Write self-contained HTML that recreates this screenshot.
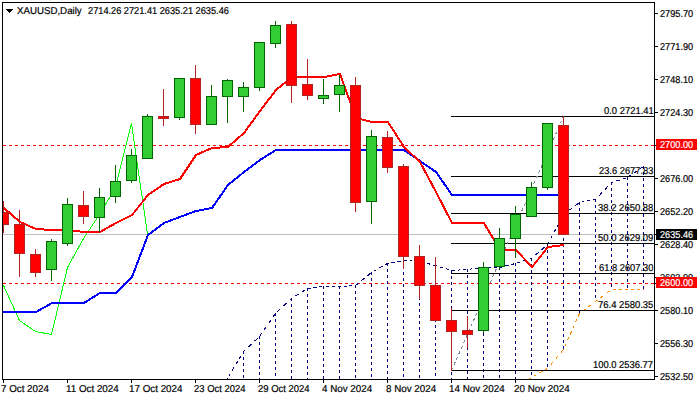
<!DOCTYPE html>
<html><head><meta charset="utf-8"><style>
html,body{margin:0;padding:0;background:#fff;width:700px;height:400px;overflow:hidden}
svg{display:block}
.t{font-family:"Liberation Sans",sans-serif;font-size:10px;fill:#000;white-space:pre;text-rendering:geometricPrecision;stroke:#000;stroke-width:0.2px}
.w{fill:#fff;stroke:#fff}
</style></head><body>
<svg width="700" height="400" viewBox="0 0 700 400" shape-rendering="crispEdges">
<defs><clipPath id="cp"><rect x="3" y="3" width="651" height="376"/></clipPath></defs>
<g clip-path="url(#cp)">
<line x1="3" y1="145.5" x2="654" y2="145.5" stroke="#ff0000" stroke-width="1" stroke-dasharray="3 3"/>
<line x1="3" y1="283.5" x2="654" y2="283.5" stroke="#ff0000" stroke-width="1" stroke-dasharray="3 3"/>
<line x1="3" y1="234.5" x2="654" y2="234.5" stroke="#c0c0c0" stroke-width="1"/>
<path d="M227.5 378V380M243.5 351V380M259.5 336V380M275.5 313V380M291.5 298V380M307.5 288V380M323.5 286V380M339.5 286V380M355.5 285V380M371.5 272V380M387.5 263V380M403.5 260V380M419.5 261V380M435.5 265V380M451.5 270V380M467.5 269V380M483.5 267V380M499.5 267V380M515.5 263V380M531.5 258V378M547.5 244V369M563.5 214V350M579.5 202V314M595.5 199V302M611.5 182V290M627.5 177V290M643.5 166V290" stroke="#000080" stroke-width="1" stroke-dasharray="3 3" fill="none"/>
<line x1="211.5" y1="400.5" x2="227.5" y2="378.5" stroke="#000080" stroke-width="1" stroke-dasharray="3.709 3.709" stroke-dashoffset="0.000"/>
<line x1="227.5" y1="378.5" x2="243.5" y2="351.5" stroke="#000080" stroke-width="1" stroke-dasharray="3.487 3.487" stroke-dashoffset="4.650"/>
<line x1="243.5" y1="351.5" x2="259.5" y2="336.5" stroke="#000080" stroke-width="1" stroke-dasharray="4.112 4.112" stroke-dashoffset="1.371"/>
<line x1="259.5" y1="336.5" x2="275.5" y2="313.5" stroke="#000080" stroke-width="1" stroke-dasharray="3.655 3.655" stroke-dashoffset="6.091"/>
<line x1="275.5" y1="313.5" x2="291.5" y2="298.5" stroke="#000080" stroke-width="1" stroke-dasharray="4.112 4.112" stroke-dashoffset="5.483"/>
<line x1="291.5" y1="298.5" x2="307.5" y2="288.5" stroke="#000080" stroke-width="1" stroke-dasharray="3.538 3.538" stroke-dashoffset="2.358"/>
<line x1="307.5" y1="288.5" x2="323.5" y2="286.5" stroke="#000080" stroke-width="1" stroke-dasharray="3.023 3.023" stroke-dashoffset="0.000"/>
<line x1="323.5" y1="286.5" x2="339.5" y2="286.5" stroke="#000080" stroke-width="1" stroke-dasharray="3.000 3.000" stroke-dashoffset="4.000"/>
<line x1="339.5" y1="286.5" x2="355.5" y2="285.5" stroke="#000080" stroke-width="1" stroke-dasharray="3.006 3.006" stroke-dashoffset="2.004"/>
<line x1="355.5" y1="285.5" x2="371.5" y2="272.5" stroke="#000080" stroke-width="1" stroke-dasharray="3.865 3.865" stroke-dashoffset="0.000"/>
<line x1="371.5" y1="272.5" x2="387.5" y2="263.5" stroke="#000080" stroke-width="1" stroke-dasharray="3.442 3.442" stroke-dashoffset="4.589"/>
<line x1="387.5" y1="263.5" x2="403.5" y2="260.5" stroke="#000080" stroke-width="1" stroke-dasharray="3.052 3.052" stroke-dashoffset="2.035"/>
<line x1="403.5" y1="260.5" x2="419.5" y2="261.5" stroke="#000080" stroke-width="1" stroke-dasharray="3.006 3.006" stroke-dashoffset="0.000"/>
<line x1="419.5" y1="261.5" x2="435.5" y2="265.5" stroke="#000080" stroke-width="1" stroke-dasharray="3.092 3.092" stroke-dashoffset="4.123"/>
<line x1="435.5" y1="265.5" x2="451.5" y2="270.5" stroke="#000080" stroke-width="1" stroke-dasharray="3.143 3.143" stroke-dashoffset="2.095"/>
<line x1="451.5" y1="270.5" x2="467.5" y2="269.5" stroke="#000080" stroke-width="1" stroke-dasharray="3.006 3.006" stroke-dashoffset="0.000"/>
<line x1="467.5" y1="269.5" x2="483.5" y2="267.5" stroke="#000080" stroke-width="1" stroke-dasharray="3.023 3.023" stroke-dashoffset="4.031"/>
<line x1="483.5" y1="267.5" x2="499.5" y2="267.5" stroke="#000080" stroke-width="1" stroke-dasharray="3.000 3.000" stroke-dashoffset="2.000"/>
<line x1="499.5" y1="267.5" x2="515.5" y2="263.5" stroke="#000080" stroke-width="1" stroke-dasharray="3.092 3.092" stroke-dashoffset="0.000"/>
<line x1="515.5" y1="263.5" x2="531.5" y2="258.5" stroke="#000080" stroke-width="1" stroke-dasharray="3.143 3.143" stroke-dashoffset="4.191"/>
<line x1="531.5" y1="258.5" x2="547.5" y2="244.5" stroke="#000080" stroke-width="1" stroke-dasharray="3.986 3.986" stroke-dashoffset="2.658"/>
<line x1="547.5" y1="244.5" x2="563.5" y2="214.5" stroke="#000080" stroke-width="1" stroke-dasharray="3.400 3.400" stroke-dashoffset="0.000"/>
<line x1="563.5" y1="214.5" x2="579.5" y2="202.5" stroke="#000080" stroke-width="1" stroke-dasharray="3.750 3.750" stroke-dashoffset="0.000"/>
<line x1="579.5" y1="202.5" x2="595.5" y2="199.5" stroke="#000080" stroke-width="1" stroke-dasharray="3.052 3.052" stroke-dashoffset="4.070"/>
<line x1="595.5" y1="199.5" x2="611.5" y2="182.5" stroke="#000080" stroke-width="1" stroke-dasharray="4.120 4.120" stroke-dashoffset="2.746"/>
<line x1="611.5" y1="182.5" x2="627.5" y2="177.5" stroke="#000080" stroke-width="1" stroke-dasharray="3.143 3.143" stroke-dashoffset="1.048"/>
<line x1="627.5" y1="177.5" x2="643.5" y2="166.5" stroke="#000080" stroke-width="1" stroke-dasharray="3.641 3.641" stroke-dashoffset="6.068"/>
<line x1="515.5" y1="390.5" x2="531.5" y2="377.5" stroke="#ff8c00" stroke-width="1" stroke-dasharray="3.865 3.865" stroke-dashoffset="0.000"/>
<line x1="531.5" y1="377.5" x2="547.5" y2="368.5" stroke="#ff8c00" stroke-width="1" stroke-dasharray="3.442 3.442" stroke-dashoffset="4.589"/>
<line x1="547.5" y1="368.5" x2="563.5" y2="349.5" stroke="#ff8c00" stroke-width="1" stroke-dasharray="3.922 3.922" stroke-dashoffset="2.615"/>
<line x1="563.5" y1="349.5" x2="579.5" y2="313.5" stroke="#ff8c00" stroke-width="1" stroke-dasharray="3.283 3.283" stroke-dashoffset="3.283"/>
<line x1="579.5" y1="313.5" x2="595.5" y2="301.5" stroke="#ff8c00" stroke-width="1" stroke-dasharray="3.750 3.750" stroke-dashoffset="3.750"/>
<line x1="595.5" y1="301.5" x2="611.5" y2="289.5" stroke="#ff8c00" stroke-width="1" stroke-dasharray="3.750 3.750" stroke-dashoffset="1.250"/>
<line x1="611.5" y1="289.5" x2="627.5" y2="289.5" stroke="#ff8c00" stroke-width="1" stroke-dasharray="3.000 3.000" stroke-dashoffset="5.000"/>
<line x1="627.5" y1="289.5" x2="643.5" y2="289.5" stroke="#ff8c00" stroke-width="1" stroke-dasharray="3.000 3.000" stroke-dashoffset="3.000"/>
<line x1="451" y1="116.5" x2="654" y2="116.5" stroke="#000" stroke-width="1"/>
<line x1="451" y1="176.5" x2="654" y2="176.5" stroke="#000" stroke-width="1"/>
<line x1="451" y1="213.5" x2="654" y2="213.5" stroke="#000" stroke-width="1"/>
<line x1="451" y1="243.5" x2="654" y2="243.5" stroke="#000" stroke-width="1"/>
<line x1="451" y1="273.5" x2="654" y2="273.5" stroke="#000" stroke-width="1"/>
<line x1="451" y1="310.5" x2="654" y2="310.5" stroke="#000" stroke-width="1"/>
<line x1="451" y1="370.5" x2="654" y2="370.5" stroke="#000" stroke-width="1"/>
<line x1="451.5" y1="370.5" x2="563.5" y2="116.5" stroke="#778899" stroke-width="1" stroke-dasharray="3 3"/>
<polyline points="3.5,285.5 19.5,320.5 35.5,331.5 51.5,334.5 67.5,267.5 83.5,238.5 99.5,214.5 115.5,187.5 131.5,123.5 147.5,234.5" stroke="#00ff00" stroke-width="1" fill="none" />
<polyline points="-12.0,312.0 4.0,312.0 20.0,312.0 36.0,312.0 52.0,303.0 68.0,303.0 84.0,303.0 100.0,293.0 116.0,293.0 132.0,277.0 148.0,235.0 164.0,223.0 180.0,217.0 196.0,211.0 212.0,208.0 228.0,185.0 244.0,172.0 260.0,160.0 276.0,150.0 292.0,150.0 308.0,150.0 324.0,150.0 340.0,150.0 356.0,150.0 372.0,150.0 388.0,150.0 404.0,150.0 420.0,161.0 436.0,172.0 452.0,195.0 468.0,195.0 484.0,195.0 500.0,195.0 516.0,195.0 532.0,195.0 548.0,195.0 564.0,195.0" stroke="#0000ff" stroke-width="2" fill="none" />
<polyline points="-12.0,194.0 4.0,208.0 20.0,222.0 36.0,229.0 52.0,230.0 68.0,230.0 84.0,232.0 100.0,232.0 116.0,223.0 132.0,215.0 148.0,195.0 164.0,184.0 180.0,179.0 196.0,155.0 212.0,148.0 228.0,147.0 244.0,133.0 260.0,111.0 276.0,90.0 292.0,77.0 308.0,77.0 324.0,77.0 340.0,74.0 356.0,118.0 372.0,122.0 388.0,122.0 404.0,147.0 420.0,162.0 436.0,192.0 452.0,223.0 468.0,223.0 484.0,223.0 500.0,250.0 516.0,250.0 532.0,267.0 548.0,247.0 564.0,245.0" stroke="#ff0000" stroke-width="2" fill="none" />
<rect x="3" y="201" width="1" height="32" fill="#b22222"/>
<rect x="-2" y="212" width="11" height="13" fill="#b22222"/>
<rect x="-1" y="213" width="9" height="11" fill="#ff0000"/>
<rect x="19" y="210" width="1" height="67" fill="#b22222"/>
<rect x="14" y="224" width="11" height="30" fill="#b22222"/>
<rect x="15" y="225" width="9" height="28" fill="#ff0000"/>
<rect x="35" y="249" width="1" height="28" fill="#b22222"/>
<rect x="30" y="254" width="11" height="19" fill="#b22222"/>
<rect x="31" y="255" width="9" height="17" fill="#ff0000"/>
<rect x="51" y="239" width="1" height="42" fill="#006400"/>
<rect x="46" y="241" width="11" height="29" fill="#006400"/>
<rect x="47" y="242" width="9" height="27" fill="#32cd32"/>
<rect x="67" y="198" width="1" height="48" fill="#006400"/>
<rect x="62" y="204" width="11" height="40" fill="#006400"/>
<rect x="63" y="205" width="9" height="38" fill="#32cd32"/>
<rect x="83" y="191" width="1" height="33" fill="#b22222"/>
<rect x="78" y="205" width="11" height="12" fill="#b22222"/>
<rect x="79" y="206" width="9" height="10" fill="#ff0000"/>
<rect x="99" y="188" width="1" height="44" fill="#006400"/>
<rect x="94" y="197" width="11" height="21" fill="#006400"/>
<rect x="95" y="198" width="9" height="19" fill="#32cd32"/>
<rect x="115" y="165" width="1" height="38" fill="#006400"/>
<rect x="110" y="181" width="11" height="16" fill="#006400"/>
<rect x="111" y="182" width="9" height="14" fill="#32cd32"/>
<rect x="131" y="149" width="1" height="34" fill="#006400"/>
<rect x="126" y="155" width="11" height="26" fill="#006400"/>
<rect x="127" y="156" width="9" height="24" fill="#32cd32"/>
<rect x="147" y="114" width="1" height="45" fill="#006400"/>
<rect x="142" y="116" width="11" height="43" fill="#006400"/>
<rect x="143" y="117" width="9" height="41" fill="#32cd32"/>
<rect x="163" y="89" width="1" height="37" fill="#b22222"/>
<rect x="158" y="116" width="11" height="3" fill="#b22222"/>
<rect x="159" y="117" width="9" height="1" fill="#ff0000"/>
<rect x="179" y="78" width="1" height="42" fill="#006400"/>
<rect x="174" y="78" width="11" height="40" fill="#006400"/>
<rect x="175" y="79" width="9" height="38" fill="#32cd32"/>
<rect x="195" y="65" width="1" height="69" fill="#b22222"/>
<rect x="190" y="78" width="11" height="47" fill="#b22222"/>
<rect x="191" y="79" width="9" height="45" fill="#ff0000"/>
<rect x="211" y="85" width="1" height="40" fill="#006400"/>
<rect x="206" y="96" width="11" height="29" fill="#006400"/>
<rect x="207" y="97" width="9" height="27" fill="#32cd32"/>
<rect x="227" y="79" width="1" height="44" fill="#006400"/>
<rect x="222" y="80" width="11" height="17" fill="#006400"/>
<rect x="223" y="81" width="9" height="15" fill="#32cd32"/>
<rect x="243" y="82" width="1" height="30" fill="#006400"/>
<rect x="238" y="87" width="11" height="10" fill="#006400"/>
<rect x="239" y="88" width="9" height="8" fill="#32cd32"/>
<rect x="259" y="42" width="1" height="49" fill="#006400"/>
<rect x="254" y="42" width="11" height="46" fill="#006400"/>
<rect x="255" y="43" width="9" height="44" fill="#32cd32"/>
<rect x="275" y="21" width="1" height="27" fill="#006400"/>
<rect x="270" y="25" width="11" height="19" fill="#006400"/>
<rect x="271" y="26" width="9" height="17" fill="#32cd32"/>
<rect x="291" y="21" width="1" height="82" fill="#b22222"/>
<rect x="286" y="24" width="11" height="62" fill="#b22222"/>
<rect x="287" y="25" width="9" height="60" fill="#ff0000"/>
<rect x="307" y="59" width="1" height="41" fill="#b22222"/>
<rect x="302" y="84" width="11" height="12" fill="#b22222"/>
<rect x="303" y="85" width="9" height="10" fill="#ff0000"/>
<rect x="323" y="79" width="1" height="25" fill="#006400"/>
<rect x="318" y="95" width="11" height="4" fill="#006400"/>
<rect x="319" y="96" width="9" height="2" fill="#32cd32"/>
<rect x="339" y="75" width="1" height="37" fill="#006400"/>
<rect x="334" y="85" width="11" height="10" fill="#006400"/>
<rect x="335" y="86" width="9" height="8" fill="#32cd32"/>
<rect x="355" y="77" width="1" height="135" fill="#b22222"/>
<rect x="350" y="85" width="11" height="118" fill="#b22222"/>
<rect x="351" y="86" width="9" height="116" fill="#ff0000"/>
<rect x="371" y="130" width="1" height="94" fill="#006400"/>
<rect x="366" y="136" width="11" height="66" fill="#006400"/>
<rect x="367" y="137" width="9" height="64" fill="#32cd32"/>
<rect x="387" y="131" width="1" height="42" fill="#b22222"/>
<rect x="382" y="137" width="11" height="31" fill="#b22222"/>
<rect x="383" y="138" width="9" height="29" fill="#ff0000"/>
<rect x="403" y="164" width="1" height="105" fill="#b22222"/>
<rect x="398" y="166" width="11" height="91" fill="#b22222"/>
<rect x="399" y="167" width="9" height="89" fill="#ff0000"/>
<rect x="419" y="245" width="1" height="54" fill="#b22222"/>
<rect x="414" y="256" width="11" height="30" fill="#b22222"/>
<rect x="415" y="257" width="9" height="28" fill="#ff0000"/>
<rect x="435" y="257" width="1" height="64" fill="#b22222"/>
<rect x="430" y="285" width="11" height="36" fill="#b22222"/>
<rect x="431" y="286" width="9" height="34" fill="#ff0000"/>
<rect x="451" y="308" width="1" height="63" fill="#b22222"/>
<rect x="446" y="320" width="11" height="12" fill="#b22222"/>
<rect x="447" y="321" width="9" height="10" fill="#ff0000"/>
<rect x="467" y="316" width="1" height="32" fill="#b22222"/>
<rect x="462" y="330" width="11" height="5" fill="#b22222"/>
<rect x="463" y="331" width="9" height="3" fill="#ff0000"/>
<rect x="483" y="262" width="1" height="71" fill="#006400"/>
<rect x="478" y="267" width="11" height="64" fill="#006400"/>
<rect x="479" y="268" width="9" height="62" fill="#32cd32"/>
<rect x="499" y="228" width="1" height="41" fill="#006400"/>
<rect x="494" y="238" width="11" height="29" fill="#006400"/>
<rect x="495" y="239" width="9" height="27" fill="#32cd32"/>
<rect x="515" y="206" width="1" height="52" fill="#006400"/>
<rect x="510" y="214" width="11" height="25" fill="#006400"/>
<rect x="511" y="215" width="9" height="23" fill="#32cd32"/>
<rect x="531" y="182" width="1" height="35" fill="#006400"/>
<rect x="526" y="187" width="11" height="30" fill="#006400"/>
<rect x="527" y="188" width="9" height="28" fill="#32cd32"/>
<rect x="547" y="123" width="1" height="67" fill="#006400"/>
<rect x="542" y="123" width="11" height="65" fill="#006400"/>
<rect x="543" y="124" width="9" height="63" fill="#32cd32"/>
<rect x="563" y="116" width="1" height="119" fill="#b22222"/>
<rect x="558" y="125" width="11" height="110" fill="#b22222"/>
<rect x="559" y="126" width="9" height="108" fill="#ff0000"/>
<text x="604.00" y="114" textLength="49.78" lengthAdjust="spacingAndGlyphs" class="t">0.0 2721.41</text>
<text x="599.00" y="174" textLength="54.36" lengthAdjust="spacingAndGlyphs" class="t">23.6 2677.83</text>
<text x="598.05" y="211" textLength="55.32" lengthAdjust="spacingAndGlyphs" class="t">38.2 2650.88</text>
<text x="598.05" y="241" textLength="55.32" lengthAdjust="spacingAndGlyphs" class="t">50.0 2629.09</text>
<text x="599.00" y="271" textLength="54.36" lengthAdjust="spacingAndGlyphs" class="t">61.8 2607.30</text>
<text x="598.05" y="308" textLength="55.32" lengthAdjust="spacingAndGlyphs" class="t">76.4 2580.35</text>
<text x="593.06" y="368" textLength="59.89" lengthAdjust="spacingAndGlyphs" class="t">100.0 2536.77</text>
</g>
<rect x="2.5" y="2.5" width="652" height="377" fill="none" stroke="#000" stroke-width="1"/>
<rect x="655" y="13" width="3" height="1" fill="#000"/>
<text x="660.00" y="17" textLength="33.14" lengthAdjust="spacingAndGlyphs" class="t">2795.70</text>
<rect x="655" y="46" width="3" height="1" fill="#000"/>
<text x="660.00" y="50" textLength="33.14" lengthAdjust="spacingAndGlyphs" class="t">2771.90</text>
<rect x="655" y="79" width="3" height="1" fill="#000"/>
<text x="660.00" y="83" textLength="33.14" lengthAdjust="spacingAndGlyphs" class="t">2748.10</text>
<rect x="655" y="112" width="3" height="1" fill="#000"/>
<text x="660.00" y="116" textLength="33.14" lengthAdjust="spacingAndGlyphs" class="t">2724.30</text>
<rect x="655" y="178" width="3" height="1" fill="#000"/>
<text x="660.00" y="182" textLength="33.14" lengthAdjust="spacingAndGlyphs" class="t">2676.00</text>
<rect x="655" y="211" width="3" height="1" fill="#000"/>
<text x="660.00" y="215" textLength="33.14" lengthAdjust="spacingAndGlyphs" class="t">2652.20</text>
<rect x="655" y="244" width="3" height="1" fill="#000"/>
<text x="660.00" y="248" textLength="33.14" lengthAdjust="spacingAndGlyphs" class="t">2628.40</text>
<rect x="655" y="277" width="3" height="1" fill="#000"/>
<text x="660.00" y="281" textLength="33.14" lengthAdjust="spacingAndGlyphs" class="t">2603.90</text>
<rect x="655" y="310" width="3" height="1" fill="#000"/>
<text x="660.00" y="314" textLength="33.14" lengthAdjust="spacingAndGlyphs" class="t">2580.10</text>
<rect x="655" y="343" width="3" height="1" fill="#000"/>
<text x="660.00" y="347" textLength="33.14" lengthAdjust="spacingAndGlyphs" class="t">2556.30</text>
<rect x="655" y="376" width="3" height="1" fill="#000"/>
<text x="660.00" y="380" textLength="33.14" lengthAdjust="spacingAndGlyphs" class="t">2532.50</text>
<rect x="656" y="139" width="41" height="11" fill="#ff0000"/>
<rect x="655" y="145" width="1" height="1" fill="#000"/>
<text x="660.00" y="148" textLength="33.14" lengthAdjust="spacingAndGlyphs" class="t w">2700.00</text>
<rect x="656" y="277" width="41" height="11" fill="#ff0000"/>
<rect x="655" y="283" width="1" height="1" fill="#000"/>
<text x="660.00" y="286" textLength="33.14" lengthAdjust="spacingAndGlyphs" class="t w">2600.00</text>
<rect x="656" y="229" width="41" height="11" fill="#000000"/>
<rect x="655" y="234" width="1" height="1" fill="#000"/>
<text x="660.00" y="238" textLength="33.14" lengthAdjust="spacingAndGlyphs" class="t w">2635.46</text>
<rect x="3" y="380" width="1" height="3" fill="#000"/>
<text x="1.02" y="392" textLength="47.88" lengthAdjust="spacingAndGlyphs" class="t">7 Oct 2024</text>
<rect x="67" y="380" width="1" height="3" fill="#000"/>
<text x="66.02" y="392" textLength="52.72" lengthAdjust="spacingAndGlyphs" class="t">11 Oct 2024</text>
<rect x="131" y="380" width="1" height="3" fill="#000"/>
<text x="129.02" y="392" textLength="53.46" lengthAdjust="spacingAndGlyphs" class="t">17 Oct 2024</text>
<rect x="195" y="380" width="1" height="3" fill="#000"/>
<text x="194.00" y="392" textLength="51.46" lengthAdjust="spacingAndGlyphs" class="t">23 Oct 2024</text>
<rect x="259" y="380" width="1" height="3" fill="#000"/>
<text x="258.00" y="392" textLength="51.46" lengthAdjust="spacingAndGlyphs" class="t">29 Oct 2024</text>
<rect x="323" y="380" width="1" height="3" fill="#000"/>
<text x="322.00" y="392" textLength="50.15" lengthAdjust="spacingAndGlyphs" class="t">4 Nov 2024</text>
<rect x="387" y="380" width="1" height="3" fill="#000"/>
<text x="386.00" y="392" textLength="50.15" lengthAdjust="spacingAndGlyphs" class="t">8 Nov 2024</text>
<rect x="451" y="380" width="1" height="3" fill="#000"/>
<text x="449.02" y="392" textLength="55.69" lengthAdjust="spacingAndGlyphs" class="t">14 Nov 2024</text>
<rect x="515" y="380" width="1" height="3" fill="#000"/>
<text x="514.00" y="392" textLength="55.71" lengthAdjust="spacingAndGlyphs" class="t">20 Nov 2024</text>
<path d="M6 9h7l-3.5 4z" fill="#000"/>
<text x="17.03" y="14" textLength="64.67" lengthAdjust="spacingAndGlyphs" class="t">XAUUSD,Daily</text>
<text x="88.00" y="14" textLength="140.94" lengthAdjust="spacingAndGlyphs" class="t">2714.26 2721.41 2635.21 2635.46</text>
</svg>
</body></html>
